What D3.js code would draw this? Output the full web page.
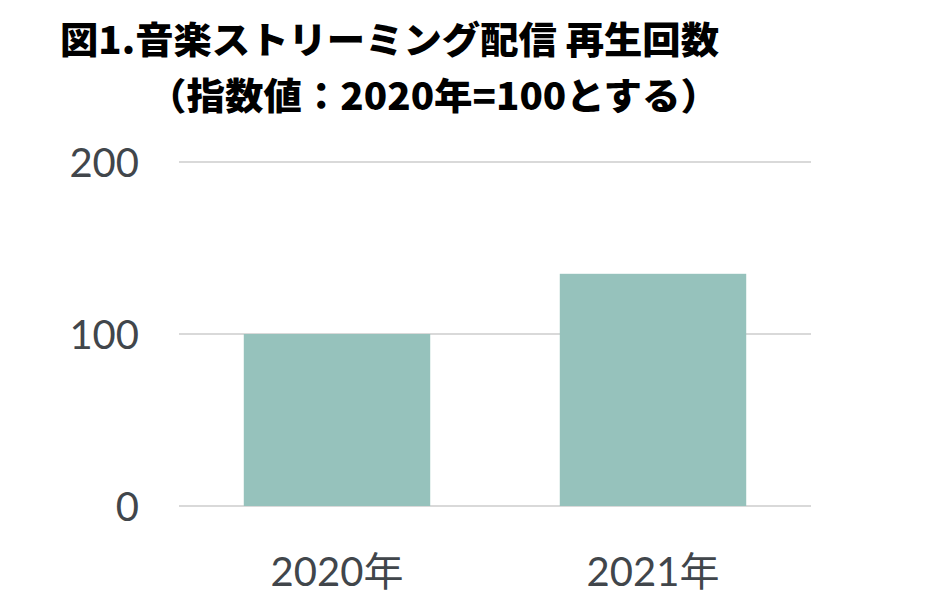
<!DOCTYPE html>
<html>
<head>
<meta charset="utf-8">
<script src="https://cdn.jsdelivr.net/npm/d3@7"></script>
<style>
  html, body { margin: 0; padding: 0; background: #ffffff; }
  svg { display: block; }
</style>
</head>
<body>
<svg id="chart" width="940" height="615"></svg>
<script>
// ---- data ----
const titleLines = ["図1.音楽ストリーミング配信 再生回数", "（指数値：2020年=100とする）"];
const categories = ["2020年", "2021年"];
const values = [100, 135];
const yTicks = [0, 100, 200];

// ---- layout ----
const svg = d3.select("#chart");
const plot = { left: 179, right: 811, top: 162, bottom: 506 };

const x = d3.scaleBand()
  .domain(categories)
  .range([plot.left, plot.right])
  .paddingInner(0.41)
  .paddingOuter(0.205);

const y = d3.scaleLinear()
  .domain([0, 200])
  .range([plot.bottom, plot.top]);

// title
const title = svg.append("g")
  .attr("font-family", "'Noto Sans CJK JP', sans-serif")
  .attr("font-weight", 900)
  .attr("fill", "#000000");
title.append("text")
  .attr("x", 60).attr("y", 54)
  .attr("font-size", 37)
  .attr("textLength", 659)
  .attr("lengthAdjust", "spacingAndGlyphs")
  .text(titleLines[0]);
title.append("text")
  .attr("x", 148).attr("y", 110)
  .attr("font-size", 37)
  .attr("textLength", 571)
  .attr("lengthAdjust", "spacingAndGlyphs")
  .text(titleLines[1]);

// gridlines
svg.append("g")
  .selectAll("line")
  .data(yTicks)
  .join("line")
  .attr("x1", plot.left)
  .attr("x2", plot.right)
  .attr("y1", d => y(d))
  .attr("y2", d => y(d))
  .attr("stroke", "#d9d9d9")
  .attr("stroke-width", 2);

// bars
svg.append("g")
  .selectAll("rect")
  .data(values)
  .join("rect")
  .attr("x", (d, i) => x(categories[i]))
  .attr("width", x.bandwidth())
  .attr("y", d => y(d))
  .attr("height", d => y(0) - y(d))
  .attr("fill", "#96c2bc");

// y axis labels
const yAxis = d3.axisLeft(y).tickValues(yTicks).tickSize(0).tickPadding(40);
const gy = svg.append("g")
  .attr("transform", `translate(${plot.left},0)`)
  .call(yAxis);
gy.select(".domain").remove();
gy.selectAll("text")
  .attr("font-family", "Lato, sans-serif")
  .attr("font-size", 40)
  .attr("fill", "#41464b")
  .attr("dy", "0.35em");

// x axis labels
const xAxis = d3.axisBottom(x).tickSize(0).tickPadding(52);
const gx = svg.append("g")
  .attr("transform", `translate(0,${plot.bottom})`)
  .call(xAxis);
gx.select(".domain").remove();
gx.selectAll("text")
  .attr("font-family", "Lato, 'Noto Sans CJK JP', sans-serif")
  .attr("font-size", 40)
  .attr("fill", "#41464b");
</script>
</body>
</html>
